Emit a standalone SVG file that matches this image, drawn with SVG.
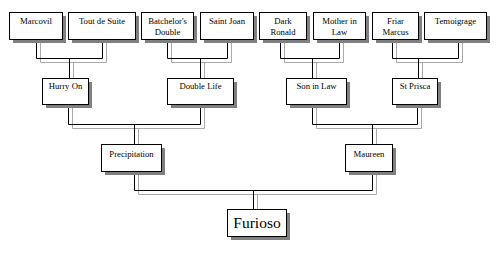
<svg xmlns="http://www.w3.org/2000/svg" width="500" height="256" viewBox="0 0 500 256">
<style>
.bx{fill:#fff;stroke:#000;stroke-width:1}
.sh{fill:#808080}
.t{font-family:"Liberation Serif","Times New Roman",serif;font-size:8.7px;fill:#000;text-anchor:middle}
.big{font-size:15.5px}
.k{fill:none;stroke:#000;stroke-width:1}
.g{fill:none;stroke:#aaa;stroke-width:1}
</style>
<rect width="500" height="256" fill="#fff"/>
<g id="connectors">
<path class="g" d="M40.5 39V62.5H106.5V39M73.5 62.5V78"/>
<path class="k" d="M36.5 39V58.5H102.5V39M69.5 58.5V78"/>
<path class="g" d="M171.5 39V62.5H231.5V39M204.5 62.5V78"/>
<path class="k" d="M167.5 39V58.5H227.5V39M200.5 58.5V78"/>
<path class="g" d="M284.5 39V62.5H343.5V39M316.5 62.5V78"/>
<path class="k" d="M280.5 39V58.5H339.5V39M312.5 58.5V78"/>
<path class="g" d="M396.5 39V62.5H462.5V39M422.5 62.5V78"/>
<path class="k" d="M392.5 39V58.5H458.5V39M418.5 58.5V78"/>
<path class="g" d="M72.5 104V128.5H204.5V104M138.5 128.5V144"/>
<path class="k" d="M68.5 104V124.5H200.5V104M134.5 124.5V144"/>
<path class="g" d="M316.5 104V128.5H421.5V104M376.5 128.5V144"/>
<path class="k" d="M312.5 104V124.5H417.5V104M372.5 124.5V144"/>
<path class="g" d="M138.5 171V194.5H376.5V171M257.5 194.5V209"/>
<path class="k" d="M134.5 171V190.5H372.5V171M253.5 190.5V209"/>
</g>
<g id="marcovil"><rect class="sh" x="13" y="16" width="53" height="27"/><rect class="bx" x="9.5" y="12.5" width="53" height="27"/><text class="t" x="36" y="24">Marcovil</text></g>
<g id="tout-de-suite"><rect class="sh" x="72" y="16" width="67" height="27"/><rect class="bx" x="68.5" y="12.5" width="67" height="27"/><text class="t" x="102" y="24">Tout de Suite</text></g>
<g id="batchelors-double"><rect class="sh" x="145" y="16" width="52" height="27"/><rect class="bx" x="141.5" y="12.5" width="52" height="27"/><text class="t" x="167.5" y="24">Batchelor's</text><text class="t" x="167.5" y="35">Double</text></g>
<g id="saint-joan"><rect class="sh" x="204" y="16" width="53" height="27"/><rect class="bx" x="200.5" y="12.5" width="53" height="27"/><text class="t" x="227" y="24">Saint Joan</text></g>
<g id="dark-ronald"><rect class="sh" x="263" y="16" width="47" height="27"/><rect class="bx" x="259.5" y="12.5" width="47" height="27"/><text class="t" x="283" y="24">Dark</text><text class="t" x="283" y="35">Ronald</text></g>
<g id="mother-in-law"><rect class="sh" x="317" y="16" width="52" height="27"/><rect class="bx" x="313.5" y="12.5" width="52" height="27"/><text class="t" x="339.5" y="24">Mother in</text><text class="t" x="339.5" y="35">Law</text></g>
<g id="friar-marcus"><rect class="sh" x="376" y="16" width="46" height="27"/><rect class="bx" x="372.5" y="12.5" width="46" height="27"/><text class="t" x="395.5" y="24">Friar</text><text class="t" x="395.5" y="35">Marcus</text></g>
<g id="temoigrage"><rect class="sh" x="428" y="16" width="62" height="27"/><rect class="bx" x="424.5" y="12.5" width="62" height="27"/><text class="t" x="455.5" y="24">Temoigrage</text></g>
<g id="hurry-on"><rect class="sh" x="46" y="82" width="46" height="26"/><rect class="bx" x="42.5" y="78.5" width="46" height="26"/><text class="t" x="65.5" y="89">Hurry On</text></g>
<g id="double-life"><rect class="sh" x="171" y="82" width="66" height="26"/><rect class="bx" x="167.5" y="78.5" width="66" height="26"/><text class="t" x="200.5" y="89">Double Life</text></g>
<g id="son-in-law"><rect class="sh" x="290" y="82" width="60" height="26"/><rect class="bx" x="286.5" y="78.5" width="60" height="26"/><text class="t" x="316.5" y="89">Son in Law</text></g>
<g id="st-prisca"><rect class="sh" x="396" y="82" width="45" height="26"/><rect class="bx" x="392.5" y="78.5" width="45" height="26"/><text class="t" x="415" y="89">St Prisca</text></g>
<g id="precipitation"><rect class="sh" x="105" y="148" width="60" height="27"/><rect class="bx" x="101.5" y="144.5" width="60" height="27"/><text class="t" x="131.5" y="157">Precipitation</text></g>
<g id="maureen"><rect class="sh" x="349" y="148" width="47" height="27"/><rect class="bx" x="345.5" y="144.5" width="47" height="27"/><text class="t" x="369" y="157">Maureen</text></g>
<g id="furioso"><rect class="sh" x="231" y="213" width="59" height="27"/><rect class="bx" x="227.5" y="209.5" width="59" height="27"/><text class="t big" x="257" y="228">Furioso</text></g>
</svg>
